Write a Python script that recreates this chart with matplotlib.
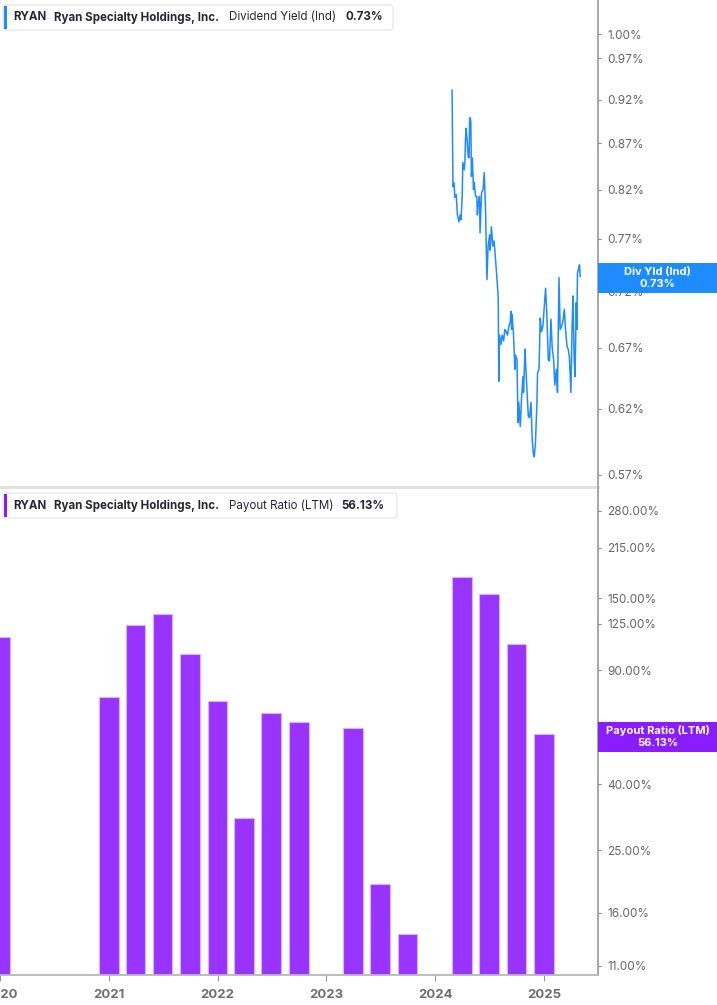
import pandas as pd
import numpy as np
import matplotlib.pyplot as plt
from matplotlib.patches import FancyBboxPatch, Rectangle
import matplotlib.dates as mdates

plt.rcParams['font.family'] = ['Inter', 'DejaVu Sans']

W, H = 717, 1005

# Dividend yield (Ind), daily-ish readings; days counted from 2024-01-01
yield_base = '2024-01-01'
yield_days = [57, 60, 64, 66, 71, 75, 80, 84, 87, 91, 93, 98, 100, 102, 104, 107, 111, 114,
              116, 118, 120, 122, 125, 129, 131, 136, 140, 142, 145, 149, 151, 156, 161, 165,
              169, 174, 178, 183, 185, 189, 194, 198, 203, 208, 212, 214, 216, 221, 225, 230,
              234, 239, 243, 248, 252, 255, 257, 259, 261, 263, 268, 270, 275, 277, 279, 281,
              286, 290, 295, 297, 302, 304, 308, 313, 317, 322, 326, 330, 333, 337, 342, 344,
              349, 353, 357, 362, 366, 371, 375, 380, 384, 389, 393, 398, 402, 407, 411, 416,
              420, 425, 429, 434, 438, 443, 447, 451, 456, 460, 463, 467, 470, 474, 476, 478,
              483, 485, 487]
yield_vals = [0.931, 0.823, 0.827, 0.812, 0.815, 0.794, 0.787, 0.794, 0.789, 0.813, 0.849,
              0.841, 0.849, 0.874, 0.887, 0.876, 0.855, 0.854, 0.896, 0.899, 0.893, 0.834,
              0.854, 0.820, 0.828, 0.813, 0.813, 0.794, 0.806, 0.813, 0.776, 0.817, 0.820,
              0.838, 0.803, 0.731, 0.763, 0.774, 0.759, 0.782, 0.763, 0.768, 0.750, 0.731,
              0.714, 0.642, 0.681, 0.673, 0.681, 0.676, 0.686, 0.684, 0.681, 0.689, 0.692,
              0.702, 0.686, 0.699, 0.689, 0.683, 0.652, 0.664, 0.660, 0.630, 0.609, 0.625,
              0.606, 0.627, 0.646, 0.633, 0.669, 0.657, 0.637, 0.614, 0.613, 0.625, 0.596,
              0.585, 0.583, 0.594, 0.625, 0.649, 0.652, 0.696, 0.684, 0.689, 0.704, 0.723,
              0.701, 0.660, 0.659, 0.695, 0.671, 0.660, 0.639, 0.652, 0.633, 0.733, 0.686,
              0.689, 0.693, 0.704, 0.686, 0.671, 0.669, 0.662, 0.633, 0.689, 0.716, 0.660,
              0.646, 0.710, 0.686, 0.737, 0.743, 0.745, 0.734]

# Payout ratio (LTM), quarterly, %  (NaN = not shown)
payout_dates = ['2019-12-31', '2020-03-31', '2020-06-30', '2020-09-30', '2020-12-31',
                '2021-03-31', '2021-06-30', '2021-09-30', '2021-12-31', '2022-03-31',
                '2022-06-30', '2022-09-30', '2022-12-31', '2023-03-31', '2023-06-30',
                '2023-09-30', '2023-12-31', '2024-03-31', '2024-06-30', '2024-09-30',
                '2024-12-31']
payout_vals = [112.6, np.nan, np.nan, np.nan, 73.5, 122.7, 132.7, 100.1, 71.4, 30.4, 65.3,
               61.4, np.nan, 58.8, 18.7, 12.8, np.nan, 173.9, 154.0, 107.2, 56.13]

yield_ticks = [0.57, 0.62, 0.67, 0.72, 0.77, 0.82, 0.87, 0.92, 0.97, 1.00]
payout_ticks = [11, 16, 25, 40, 55, 90, 125, 150, 215, 280]
years = [2020, 2021, 2022, 2023, 2024, 2025]

BLUE = '#1e8cff'
PURPLE = '#9933ff'
PURPLE_TAG = '#8a1dff'


def fx(x):
    return x / W


def fy(y):
    return 1 - y / H


fig = plt.figure(figsize=(W / 100, H / 100), dpi=100)
ax1 = fig.add_axes([0, fy(487), fx(598), 487 / H])
ax2 = fig.add_axes([0, fy(975), fx(598), 488 / H])

xmin, xmax = pd.Timestamp('2020-01-01'), pd.Timestamp('2025-07-01')

# top panel: dividend yield line
yd = pd.Timestamp(yield_base) + pd.to_timedelta(yield_days, unit='D')
ax1.plot(yd, yield_vals, color=BLUE, lw=1.1)
ax1.set_yscale('log')
ax1.set_ylim(0.561, 1.0447)
ax1.set_yticks(yield_ticks)
ax1.set_yticklabels(['%.2f%%' % t for t in yield_ticks])
ax1.minorticks_off()
ax1.set_xticks([])

# bottom panel: payout ratio bars
pdts = pd.to_datetime(payout_dates)
ax2.bar(pdts, payout_vals, width=66, bottom=1, color=PURPLE, edgecolor='#d7b4ff', linewidth=0.8)
ax2.set_yscale('log')
ax2.set_ylim(10.29, 331)
ax2.set_yticks(payout_ticks)
ax2.set_yticklabels(['%.2f%%' % t for t in payout_ticks])
ax2.minorticks_off()
ax2.set_xticks([pd.Timestamp('%d-01-01' % y) for y in years])
ax2.set_xticklabels([str(y) for y in years], fontweight='bold', fontsize=9.5, color='#6e6e6e')
ax2.tick_params(axis='x', length=4, color='#999999', pad=6)

for ax in (ax1, ax2):
    ax.set_xlim(xmin, xmax)
    ax.yaxis.tick_right()
    ax.tick_params(axis='y', direction='out', length=2.5, width=0.8, color='#888888',
                   labelcolor='#666666', labelsize=8.5, pad=4)
    for s in ('left', 'top'):
        ax.spines[s].set_visible(False)
    ax.spines['right'].set_color('#a0a0a0')
    ax.spines['right'].set_linewidth(1.3)
    ax.patch.set_alpha(0)

ax1.spines['bottom'].set_color('#dedede')
ax1.spines['bottom'].set_linewidth(2)
ax2.spines['bottom'].set_color('#b8b8b8')
ax2.spines['bottom'].set_linewidth(1.3)


def legend_box(y0, y1, x1, accent, parts):
    box = FancyBboxPatch((fx(3), fy(y1)), fx(x1 - 3), (y1 - y0) / H,
                         boxstyle='round,pad=0,rounding_size=0.004', transform=fig.transFigure,
                         facecolor='white', edgecolor='#e4e4e4', linewidth=0.8)
    fig.add_artist(box)
    fig.add_artist(Rectangle((fx(3.5), fy(y1 - 1)), fx(3), (y1 - y0 - 2) / H,
                             transform=fig.transFigure, facecolor=accent, edgecolor='none'))
    yc = fy((y0 + y1) / 2)
    for x, s, w in parts:
        fig.text(fx(x), yc, s, fontsize=8.3, fontweight=w, color='#262633', va='center', ha='left')


legend_box(5, 30, 393, BLUE, [(13, 'RYAN', 'bold'), (54, 'Ryan Specialty Holdings, Inc.', 'bold'),
                               (229, 'Dividend Yield (Ind)', 'normal'), (345, '0.73%', 'bold')])
legend_box(493, 518, 397, PURPLE_TAG, [(13, 'RYAN', 'bold'), (54, 'Ryan Specialty Holdings, Inc.', 'bold'),
                                        (229, 'Payout Ratio (LTM)', 'normal'), (341, '56.13%', 'bold')])


def value_tag(y0, y1, color, l1, l2):
    fig.add_artist(Rectangle((fx(598), fy(y1)), fx(W - 598), (y1 - y0) / H,
                             transform=fig.transFigure, facecolor=color, edgecolor='none'))
    xc = fx((598 + W) / 2)
    fig.text(xc, fy(y0 + 9), l1, fontsize=8, fontweight='bold', color='white', ha='center', va='center')
    fig.text(xc, fy(y0 + 21), l2, fontsize=8, fontweight='bold', color='white', ha='center', va='center')


value_tag(263, 293, BLUE, 'Div Yld (Ind)', '0.73%')
value_tag(722, 752, PURPLE_TAG, 'Payout Ratio (LTM)', '56.13%')

fig.savefig('out.png', dpi=100)
